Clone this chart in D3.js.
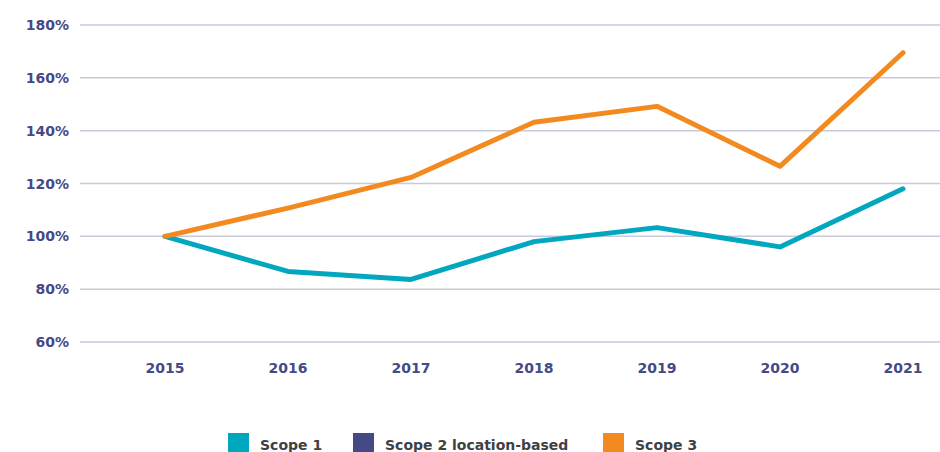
<!DOCTYPE html>
<html>
<head>
<meta charset="utf-8">
<script src="https://cdn.jsdelivr.net/npm/d3@7"></script>
<style>
  body { margin: 0; background: #fff; }
  text { font-family: "DejaVu Sans", sans-serif; font-weight: bold; }
</style>
</head>
<body>
<script>
var years = ["2015", "2016", "2017", "2018", "2019", "2020", "2021"];
var scope1 = [100, 86.7, 83.7, 98, 103.3, 96, 118];
var scope3 = [100, 110.7, 122.3, 143.2, 149.2, 126.5, 169.5];
var yTicks = [60, 80, 100, 120, 140, 160, 180];
var legendNames = ["Scope 1", "Scope 2 location-based", "Scope 3"];
var legendColors = ["#00a7bf", "#454a87", "#f28a1f"];

var W = 940, H = 452;

var svg = d3.select("body").append("svg")
    .attr("width", W)
    .attr("height", H);

// scales
var xScale = d3.scalePoint().domain(years).range([165, 903]);
var yScale = d3.scaleLinear().domain([60, 180]).range([342, 25]);

// grid
svg.append("g")
    .selectAll("line")
    .data(yTicks)
    .enter().append("line")
    .attr("x1", 80).attr("x2", W)
    .attr("y1", function (d) { return yScale(d); })
    .attr("y2", function (d) { return yScale(d); })
    .attr("stroke", "#c9c9dc")
    .attr("stroke-width", 1.5);

// y labels
svg.append("g")
    .selectAll("text")
    .data(yTicks)
    .enter().append("text")
    .attr("x", 69)
    .attr("y", function (d) { return yScale(d); })
    .attr("dy", "0.36em")
    .attr("text-anchor", "end")
    .attr("fill", "#454a87")
    .attr("font-size", 14)
    .text(function (d) { return d + "%"; });

// x labels
svg.append("g")
    .selectAll("text")
    .data(years)
    .enter().append("text")
    .attr("x", function (d) { return xScale(d); })
    .attr("y", 373)
    .attr("text-anchor", "middle")
    .attr("fill", "#454a87")
    .attr("font-size", 14)
    .text(function (d) { return d; });

var line = d3.line()
    .x(function (d, i) { return xScale(years[i]); })
    .y(function (d) { return yScale(d); });

svg.append("path").datum(scope1)
    .attr("d", line)
    .attr("fill", "none")
    .attr("stroke", legendColors[0])
    .attr("stroke-width", 5)
    .attr("stroke-linecap", "round")
    .attr("stroke-linejoin", "round");

svg.append("path").datum(scope3)
    .attr("d", line)
    .attr("fill", "none")
    .attr("stroke", legendColors[2])
    .attr("stroke-width", 5)
    .attr("stroke-linecap", "round")
    .attr("stroke-linejoin", "round");

// legend
var legendX = [228, 353, 603];
var lg = svg.append("g")
    .selectAll("g")
    .data(legendNames)
    .enter().append("g")
    .attr("transform", function (d, i) { return "translate(" + legendX[i] + ",433)"; });

lg.append("rect")
    .attr("width", 21).attr("height", 20)
    .attr("fill", function (d, i) { return legendColors[i]; });

lg.append("text")
    .attr("x", 32)
    .attr("y", 17)
    .attr("fill", "#3f3f46")
    .attr("font-size", 14)
    .text(function (d) { return d; });
</script>
</body>
</html>
